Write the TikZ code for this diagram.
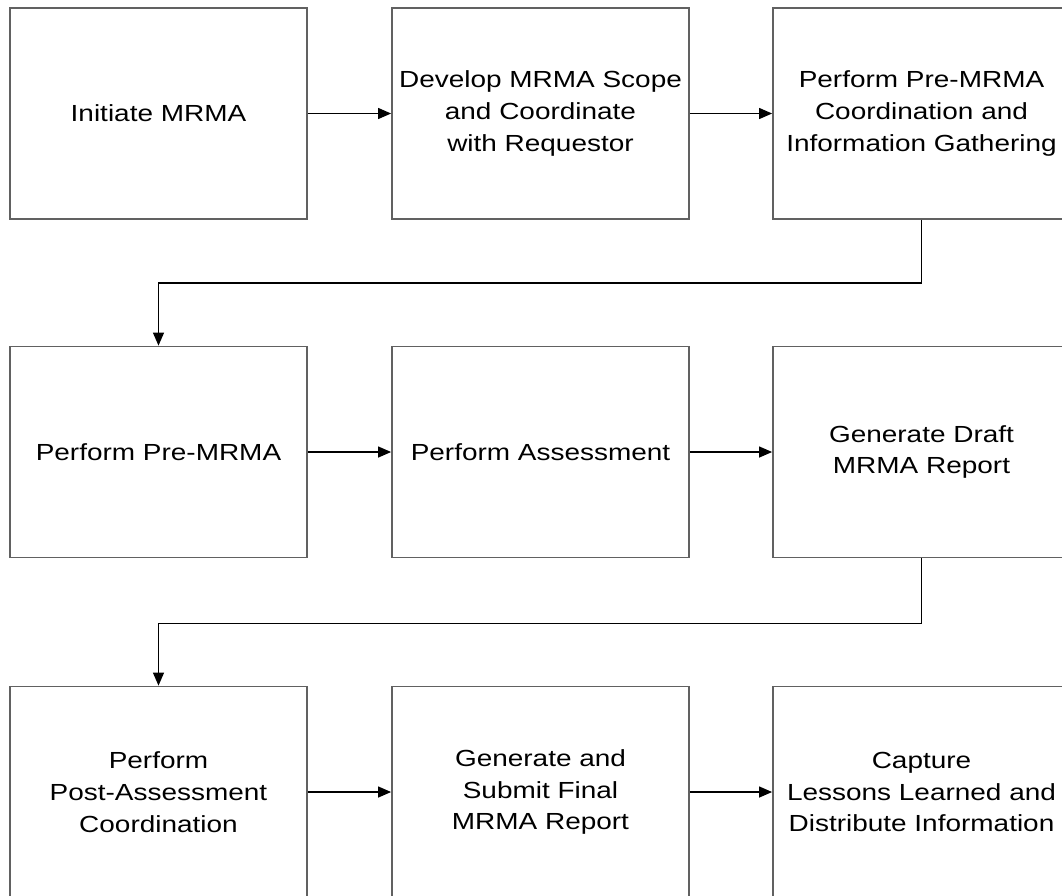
\documentclass[tikz,border=0pt]{standalone}
\usepackage{fontspec}
\setmainfont{Liberation Sans}[FakeStretch=1.2]
\usetikzlibrary{arrows.meta}
\begin{document}
\begin{tikzpicture}[x=1pt,y=1pt,
  stepbox/.style={draw=black!62, line width=1.8pt, minimum width=297pt, minimum height=211pt,
    inner sep=0pt, align=center, font=\fontsize{23.3}{31.7}\selectfont},
  flow/.style={draw=black, line width=1.2pt, -{Triangle[length=13pt,width=11pt]}}]
\useasboundingbox (0,0) rectangle (1062,-895);
\clip (0,0) rectangle (1062,-895);
% row 1
\node[stepbox] (a1) at (158.5,-113.5) {Initiate MRMA};
\node[stepbox] (a2) at (540.5,-113.5) {Develop MRMA Scope\\and Coordinate\\with Requestor};
\node[stepbox] (a3) at (921.5,-113.5) {Perform Pre-MRMA\\Coordination and\\Information Gathering};
% row 2
\node[stepbox] (b1) at (158.5,-452) {Perform Pre-MRMA};
\node[stepbox] (b2) at (540.5,-452) {Perform Assessment};
\node[stepbox] (b3) at (921.5,-452) {Generate Draft\\MRMA Report};
% row 3
\node[stepbox] (c1) at (158.5,-792) {Perform\\Post-Assessment\\Coordination};
\node[stepbox] (c2) at (540.5,-792) {Generate and\\Submit Final\\MRMA Report};
\node[stepbox] (c3) at (921.5,-792) {Capture\\Lessons Learned and\\Distribute Information};
% connectors
\draw[flow] (a1.east) -- (a2.west);
\draw[flow] (a2.east) -- (a3.west);
\draw[flow] (b1.east) -- (b2.west);
\draw[flow] (b2.east) -- (b3.west);
\draw[flow] (c1.east) -- (c2.west);
\draw[flow] (c2.east) -- (c3.west);
\draw[flow] (a3.south) -- ++(0,-63) -| (b1.north);
\draw[flow] (b3.south) -- ++(0,-65) -| (c1.north);
\end{tikzpicture}
\end{document}
